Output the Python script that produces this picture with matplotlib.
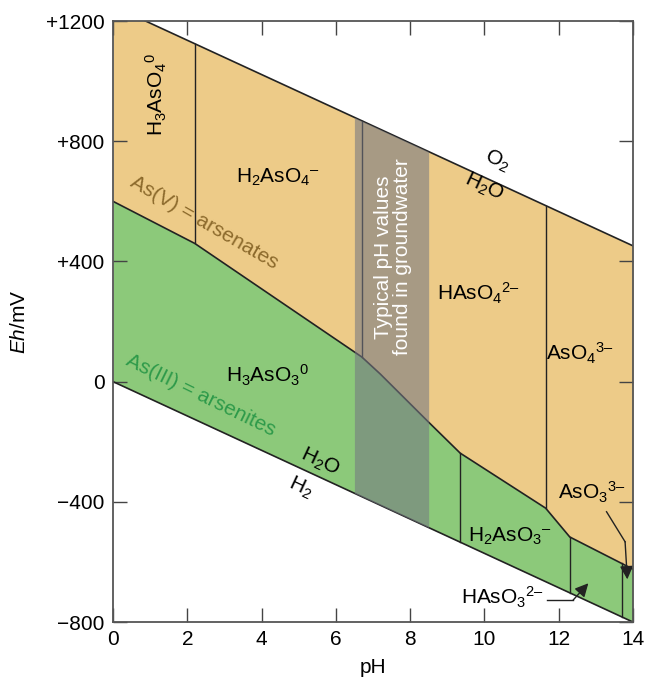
import numpy as np
import matplotlib.pyplot as plt

plt.rcParams['font.family'] = ['Liberation Sans', 'DejaVu Sans']
plt.rcParams['mathtext.fontset'] = 'custom'
plt.rcParams['mathtext.rm'] = 'Liberation Sans'
plt.rcParams['mathtext.it'] = 'Liberation Sans:italic'

# limites da agua (O2/H2O e H2O/H2)
agua_ph = [0, 14]
o2_eh = [1250, 452]
h2_eh = [0, -800]

# fronteira As(V) / As(III)
fronteira_ph = [0, 2.2, 6.7, 7.2, 8.5, 9.35, 11.65, 12.3, 14]
fronteira_eh = [600, 460, 82, 25, -135, -238, -421, -517, -624]

# linhas verticais de especiacao
verticais_ox = [2.2, 6.7, 11.65]    # As(V): da fronteira ate O2
verticais_red = [9.35, 12.3, 13.7]  # As(III): da fronteira ate H2

# faixa tipica de pH em agua subterranea
faixa_ph = [6.5, 8.5]

D = '\u2013'
especies = [
    (r'H$_3$AsO$_4$$^0$', 1.18, 955, 90),
    (r'H$_2$AsO$_4$$^{' + D + '}$', 4.44, 680, 0),
    (r'HAsO$_4$$^{2' + D + '}$', 9.83, 295, 0),
    (r'AsO$_4$$^{3' + D + '}$', 12.57, 95, 0),
    (r'H$_3$AsO$_3$$^0$', 4.17, 22, 0),
    (r'H$_2$AsO$_3$$^{' + D + '}$', 10.69, -514, 0),
    (r'AsO$_3$$^{3' + D + '}$', 12.9, -367, 0),
    (r'HAsO$_3$$^{2' + D + '}$', 10.5, -717, 0),
]

laranja = '#EDCB88'
verde = '#8CC97A'
fs = 15

fig = plt.figure(figsize=(6.47, 6.81), dpi=100)
ax = fig.add_axes([0.1747, 0.0866, 0.8035, 0.8825])

ph = np.linspace(0, 14, 1401)
o2 = np.interp(ph, agua_ph, o2_eh)
h2 = np.interp(ph, agua_ph, h2_eh)
fr = np.interp(ph, fronteira_ph, fronteira_eh)

ax.fill_between(ph, fr, o2, color=laranja, lw=0, zorder=1)
ax.fill_between(ph, h2, fr, color=verde, lw=0, zorder=1)

ax.plot(agua_ph, o2_eh, color='#222222', lw=1.2, zorder=3)
ax.plot(agua_ph, h2_eh, color='#222222', lw=1.2, zorder=3)
ax.plot(fronteira_ph, fronteira_eh, color='#222222', lw=1.2, zorder=3)

for p in verticais_ox:
    ax.plot([p, p], [np.interp(p, fronteira_ph, fronteira_eh), np.interp(p, agua_ph, o2_eh)],
            color='#222222', lw=1.0, zorder=3)
for p in verticais_red:
    ax.plot([p, p], [np.interp(p, agua_ph, h2_eh), np.interp(p, fronteira_ph, fronteira_eh)],
            color='#222222', lw=1.0, zorder=3)

# faixa cinza por cima das linhas
m = (ph >= faixa_ph[0]) & (ph <= faixa_ph[1])
ax.fill_between(ph[m], h2[m], o2[m], color=(0.46, 0.47, 0.51), alpha=0.58, lw=0, zorder=4)
ax.text(7.55, 415, 'Typical pH values\nfound in groundwater', color='white', fontsize=fs,
        rotation=90, ha='center', va='center', linespacing=1.0, zorder=5)

for txt, x, y, rot in especies:
    ax.text(x, y, txt, fontsize=fs, ha='center', va='center', rotation=rot, zorder=5)

ax.text(2.45, 528, 'As(V) = arsenates', color='#8C6A2C', fontsize=fs, rotation=-30,
        ha='center', va='center', zorder=5)
ax.text(2.35, -45, 'As(III) = arsenites', color='#2E9A4A', fontsize=fs, rotation=-26,
        ha='center', va='center', zorder=5)

ax.text(10.35, 734, r'O$_2$', fontsize=fs, rotation=-25, ha='center', va='center', zorder=5)
ax.text(10.0, 648, r'H$_2$O', fontsize=fs, rotation=-25, ha='center', va='center', zorder=5)
ax.text(5.58, -268, r'H$_2$O', fontsize=fs, rotation=-25, ha='center', va='center', zorder=5)
ax.text(5.04, -351, r'H$_2$', fontsize=fs, rotation=-25, ha='center', va='center', zorder=5)

# setas
ax.plot([13.29, 13.79], [-433, -533], color='#222222', lw=1.0, zorder=5)
ax.annotate('', xy=(13.85, -658), xytext=(13.79, -533),
            arrowprops=dict(arrowstyle='-|>', color='#222222', lw=1.0, mutation_scale=20,
                            shrinkA=0, shrinkB=0), zorder=5)
ax.plot([11.68, 12.39], [-727, -727], color='#222222', lw=1.0, zorder=5)
ax.annotate('', xy=(12.80, -671), xytext=(12.39, -727),
            arrowprops=dict(arrowstyle='-|>', color='#222222', lw=1.0, mutation_scale=20,
                            shrinkA=0, shrinkB=0), zorder=5)

ax.set_xlim(0, 14)
ax.set_ylim(-800, 1200)
ax.set_xticks(range(0, 15, 2))
ax.set_yticks([-800, -400, 0, 400, 800, 1200])
ax.set_yticklabels(['\u2212800', '\u2212400', '0', '+400', '+800', '+1200'])
ax.tick_params(direction='in', length=10, width=1.0, color='#444444', labelsize=fs,
               top=True, right=True, pad=6)
for s in ax.spines.values():
    s.set_color('#555555')
    s.set_linewidth(1.3)
    s.set_zorder(6)

ax.set_xlabel('pH', fontsize=fs, labelpad=6)
ax.set_ylabel(r'$Eh$/mV', fontsize=fs, labelpad=12)

plt.savefig('out.png', dpi=100)
